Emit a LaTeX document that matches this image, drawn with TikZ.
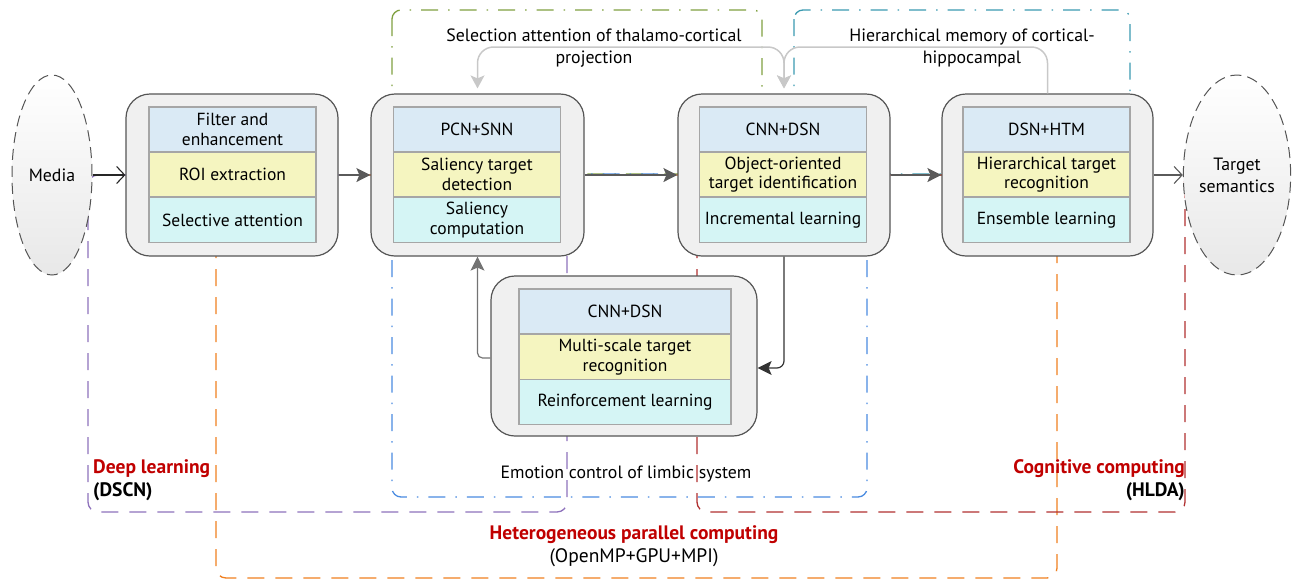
\documentclass[tikz,border=0pt]{standalone}
\usepackage{fontspec}
\setmainfont{PT Sans}
\usetikzlibrary{arrows.meta,shapes.geometric,calc}
\definecolor{boxfill}{HTML}{F0F0F0}
\definecolor{boxborder}{HTML}{555555}
\definecolor{cellborder}{HTML}{A6A6A6}
\definecolor{cblue}{HTML}{DAEAF5}
\definecolor{cyellow}{HTML}{F5F5C0}
\definecolor{ccyan}{HTML}{D5F5F5}
\definecolor{grpgreen}{HTML}{7FA040}
\definecolor{grpteal}{HTML}{3A9AB0}
\definecolor{grpblue}{HTML}{4A8BE0}
\definecolor{grppurple}{HTML}{8E72BC}
\definecolor{grporange}{HTML}{F07F1F}
\definecolor{grpred}{HTML}{B03030}
\definecolor{labred}{HTML}{C00000}
\definecolor{arrgray}{HTML}{5A5A5A}
\definecolor{lightarr}{HTML}{C8C8C8}
\tikzset{
  LG/.tip={Stealth[length=13pt,width=14pt,inset=3pt]},
  outer/.style={draw=boxborder, fill=boxfill, rounded corners=24pt, line width=1.2pt, inner sep=0pt},
  cell/.style={draw=cellborder, line width=1.3pt, minimum width=167pt, minimum height=45pt, align=center, inner sep=0pt, font=\fontsize{17.5}{19.5}\selectfont},
  cellA/.style={cell, fill=cblue},
  cellB/.style={cell, fill=cyellow},
  cellC/.style={cell, fill=ccyan},
  oval/.style={ellipse, draw=boxborder, dash pattern=on 11pt off 6pt, line width=1pt, top color=white, bottom color=black!9, align=center, inner sep=0pt},
  flow/.style={draw=arrgray, line width=1.4pt, -{Stealth[length=14pt,width=14pt,inset=3pt]}},
  openarr/.style={line width=1.1pt, -{Straight Barb[length=8pt,width=17pt]}},
  lgarrow/.style={draw=lightarr, line width=1.5pt, rounded corners=16pt},
  dashdot/.style={line width=1.3pt, rounded corners=9pt, dash pattern=on 17pt off 10pt on 1.5pt off 10pt},
  dashgrp/.style={line width=1.3pt, rounded corners=10pt, dash pattern=on 17pt off 11pt},
  grplab/.style={font=\fontsize{19.5}{23}\selectfont\bfseries, inner sep=0pt, align=left},
  plain/.style={inner sep=0pt, align=center},
}
\begin{document}
\begin{tikzpicture}[x=1pt,y=-1pt, font=\fontsize{17.8}{22}\selectfont]
\useasboundingbox (0,0) rectangle (1293,582);

% group regions (behind)
\draw[dashdot, grpgreen] (392,10) rectangle (762,174);
\draw[dashdot, grpteal] (794,10) rectangle (1130,174);
\draw[dashdot, grpblue] (392,174) rectangle (867,497);
\draw[dashgrp, grppurple] (88,175) rectangle (567,512);
\draw[dashgrp, grporange] (216,175) rectangle (1057,578);
\draw[dashgrp, grpred] (697,175) rectangle (1185,512);

% ellipses
\node[oval, minimum width=80pt, minimum height=200pt] (media) at (52,175) {Media};
\node[oval, minimum width=105pt, minimum height=200pt, font=\fontsize{17.8}{22}\selectfont] (target) at (1237,175) {Target\\semantics};

% box 1
\node[outer, minimum width=212pt, minimum height=162pt] (b1) at (232,175) {};
\node[cellA] (b1a) at (232.5,129.5) {Filter and\\enhancement};
\node[cellB] (b1b) at (232.5,174.5) {ROI extraction};
\node[cellC] (b1c) at (232.5,220) {Selective attention};

% box 2
\node[outer, minimum width=213pt, minimum height=162pt] (b2) at (477.5,175) {};
\node[cellA] (b2a) at (477,129.5) {PCN+SNN};
\node[cellB] (b2b) at (477,174.5) {Saliency target\\detection};
\node[cellC] (b2c) at (477,220) {Saliency\\computation};

% box 3
\node[outer, minimum width=212pt, minimum height=162pt] (b3) at (784,175) {};
\node[cellA] (b3a) at (783,129.5) {CNN+DSN};
\node[cellB] (b3b) at (783,174.5) {Object-oriented\\target identification};
\node[cellC] (b3c) at (783,220) {Incremental learning};

% box 4
\node[outer, minimum width=211pt, minimum height=162pt] (b4) at (1047.5,175) {};
\node[cellA] (b4a) at (1046.5,129.5) {DSN+HTM};
\node[cellB] (b4b) at (1046.5,174.5) {Hierarchical target\\recognition};
\node[cellC] (b4c) at (1046.5,220) {Ensemble learning};

% box 5
\node[outer, minimum width=266pt, minimum height=160pt] (b5) at (624,356) {};
\node[cellA, minimum width=212pt] (b5a) at (625,311.5) {CNN+DSN};
\node[cellB, minimum width=212pt] (b5b) at (625,357) {Multi-scale target\\recognition};
\node[cellC, minimum width=212pt] (b5c) at (625,402) {Reinforcement learning};

% main flow
\draw[openarr, black!85] (media) -- (b1);
\draw[flow] (b1) -- (b2);
\draw[flow] (b2) -- (b3);
\draw[flow] (b3) -- (b4);
\draw[openarr, arrgray] (b4) -- (target);
\draw[flow, draw=black!80, line width=1.2pt, rounded corners=7pt] (b3.south) |- ([yshift=-12pt]b5.east);
\draw[flow, draw=black!55, line width=1.2pt, rounded corners=5pt] ([yshift=-2pt]b5.west) -| (b2.south);

% top feedback connectors
\draw[lgarrow, LG-LG, shorten <=5pt, shorten >=5pt] (b3.north) -- (b3.north |- 0,47) -| (b2.north);
\draw[lgarrow, -LG, shorten >=5pt] (b4.north) -- (b4.north |- 0,47) -- (b3.north |- 0,47) -- (b3.north);

\node[plain] (lsel) at (594,48) {Selection attention of thalamo-cortical\\projection};
\node[plain] (lhier) at (972,48) {Hierarchical memory of cortical-\\hippocampal};
\node[plain] (lemo) at (626,474) {Emotion control of limbic system};

% group labels
\node[grplab, anchor=north west] (ldl) at (93,459) {\textcolor{labred}{Deep learning}\\(DSCN)};
\node[grplab, anchor=north, align=center] (lhp) at (634,525) {\textcolor{labred}{Heterogeneous parallel computing}\\\mdseries(OpenMP+GPU+MPI)};
\node[grplab, anchor=north east, align=right] (lcc) at (1185,459) {\textcolor{labred}{Cognitive computing}\\(HLDA)};
\end{tikzpicture}
\end{document}
